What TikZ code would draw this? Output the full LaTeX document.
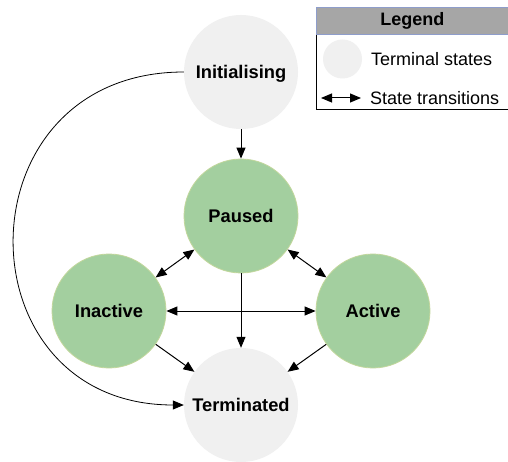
\documentclass[tikz,border=0pt]{standalone}
\usepackage{fontspec}
\setmainfont{Liberation Sans}
\usetikzlibrary{arrows.meta}
\definecolor{stategreen}{HTML}{A3CF9F}
\definecolor{stateborder}{HTML}{C2D79C}
\definecolor{termgrey}{HTML}{F0F0F0}
\definecolor{headgrey}{HTML}{A6A6A6}
\definecolor{headborder}{HTML}{8E9DCB}
\tikzset{
  lbl/.style={font=\fontsize{18}{21}\selectfont},
  activestate/.style={circle, minimum size=114pt, inner sep=0pt, text depth=0pt, fill=stategreen, draw=stateborder, line width=0.8pt, font=\fontsize{18.3}{21}\selectfont\bfseries},
  termstate/.style={circle, minimum size=114pt, inner sep=0pt, text depth=0pt, fill=termgrey, font=\fontsize{18.3}{21}\selectfont\bfseries},
  tip/.tip={Triangle[length=11pt,width=9pt]},
  trans/.style={-tip, line width=1pt, black},
  bitrans/.style={tip-tip, line width=1pt, black},
  curvetrans/.style={-tip, line width=0.8pt, black}
}
\begin{document}
\begin{tikzpicture}[x=1pt,y=-1pt]
\useasboundingbox (0,0) rectangle (508,462);
\fill[white] (0,0) rectangle (508,462);

\node[termstate] (init) at (241,72) {Initialising};
\node[activestate] (paused) at (241,216) {Paused};
\node[activestate] (inactive) at (109,311) {Inactive};
\node[activestate] (active) at (373,311) {Active};
\node[termstate] (term) at (241,405) {Terminated};

\draw[trans] (init) -- (paused);
\draw[trans] (paused) -- (term);
\draw[bitrans] (inactive) -- (paused);
\draw[bitrans] (paused) -- (active);
\draw[bitrans] (inactive) -- (active);
\draw[trans] (inactive) -- (term);
\draw[trans] (active) -- (term);
\draw[curvetrans] (init.west) .. controls (-42,72) and (-42,405) .. (term.west);

% Legend
\draw[black, line width=0.8pt] (316,34) -- (316,109) -- (508,109);
\node[draw=headborder, fill=headgrey, line width=0.8pt, minimum width=192pt, minimum height=27pt, inner sep=0pt, anchor=north west, font=\fontsize{18}{21}\selectfont\bfseries] (leghead) at (316,7) {Legend};
\node[circle, fill=termgrey, minimum size=39pt, inner sep=0pt] (legcircle) at (342.5,59) {};
\node[lbl, anchor=west, inner sep=0pt] (legterm) at (371,59) {Terminal states};
\coordinate (lega) at (321,98);
\coordinate (legb) at (361,98);
\draw[bitrans] (lega) -- (legb);
\node[lbl, anchor=west, inner sep=0pt] (legtrans) at (370,98) {State transitions};
\end{tikzpicture}
\end{document}
